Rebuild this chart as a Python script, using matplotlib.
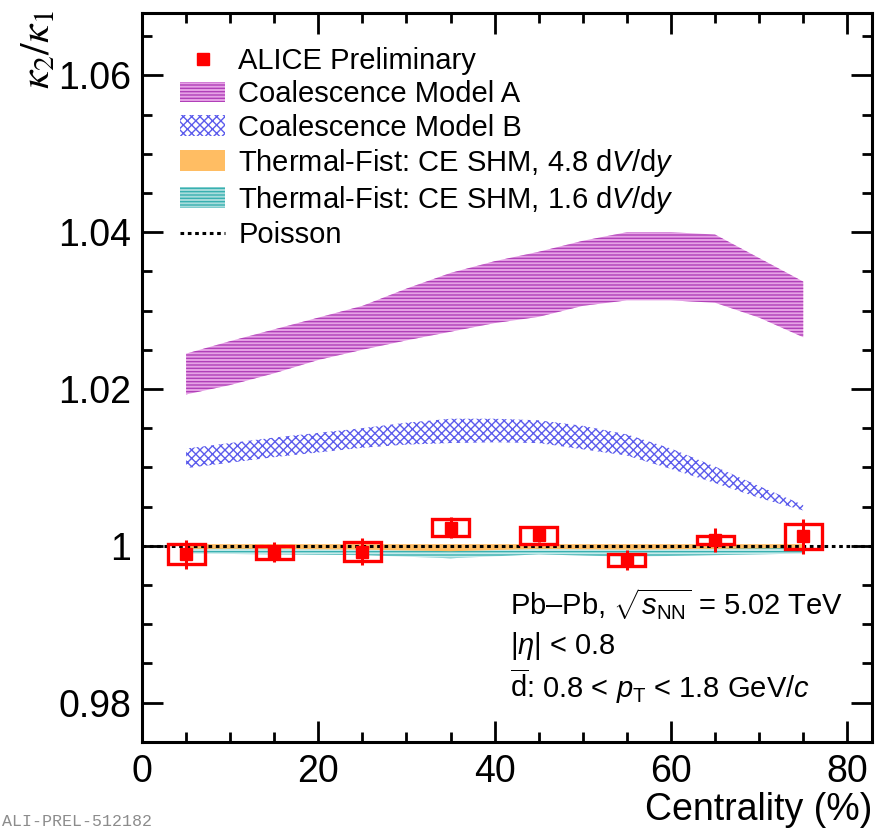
import matplotlib
matplotlib.use("Agg")
import matplotlib.pyplot as plt
import numpy as np
from matplotlib.lines import Line2D
from matplotlib.patches import Patch
from matplotlib.ticker import MultipleLocator, FuncFormatter

plt.rcParams['font.family'] = ['Liberation Sans', 'DejaVu Sans']
plt.rcParams['mathtext.fontset'] = 'custom'
plt.rcParams['mathtext.rm'] = 'Liberation Sans'
plt.rcParams['mathtext.it'] = 'Liberation Sans:italic'
plt.rcParams['mathtext.bf'] = 'Liberation Sans:bold'
plt.rcParams['hatch.linewidth'] = 1.0

# ---------------- data ----------------
centrality = [5, 15, 25, 35, 45, 55, 65, 75]
kappa_ratio = [0.99893, 0.99916, 0.99924, 1.00232, 1.00132, 0.99815, 1.00070, 1.00118]
stat_err = [0.00185, 0.00127, 0.00170, 0.00138, 0.00090, 0.00128, 0.00152, 0.00225]
syst_err = [0.00128, 0.00085, 0.00120, 0.00108, 0.00110, 0.00079, 0.00053, 0.00154]

model_x = [5, 10, 15, 20, 25, 30, 35, 40, 45, 50, 55, 60, 65, 70, 75]
coalA_hi = [1.0245, 1.0261, 1.0276, 1.0291, 1.0306, 1.0328, 1.0348, 1.0363, 1.0375,
            1.0389, 1.0400, 1.0400, 1.0397, 1.0367, 1.0337]
coalA_lo = [1.0193, 1.0205, 1.0220, 1.0237, 1.0250, 1.0262, 1.0273, 1.0284, 1.0292,
            1.0306, 1.0313, 1.0313, 1.0310, 1.0291, 1.0266]
coalB_hi = [1.0124, 1.0131, 1.0138, 1.0144, 1.0150, 1.0157, 1.0162, 1.0162, 1.0160,
            1.0153, 1.0142, 1.0124, 1.0101, 1.0076, 1.0052]
coalB_lo = [1.0099, 1.0106, 1.0113, 1.0119, 1.0125, 1.0129, 1.0131, 1.0132, 1.0131,
            1.0123, 1.0115, 1.0098, 1.0080, 1.0061, 1.0045]

tf_x = [5, 15, 25, 35, 45, 55, 65, 75]
tf48_hi = [1.0002, 1.0002, 1.0002, 1.0002, 1.0002, 1.0002, 1.0002, 1.0002]
tf48_lo = [0.9996, 0.9996, 0.9995, 0.9993, 0.9996, 0.9995, 0.9996, 0.9997]
tf16_hi = [0.99985, 0.99985, 0.99980, 0.99970, 0.99980, 0.99975, 0.99980, 0.99985]
tf16_lo = [0.9990, 0.9989, 0.9988, 0.9984, 0.9989, 0.9986, 0.9988, 0.9990]

poisson_x = [0, 82.8]
poisson_y = [1.0, 1.0]

x_range = (0, 82.8)
y_range = (0.975, 1.068)

labels = ["ALICE Preliminary", "Coalescence Model A", "Coalescence Model B",
          r"Thermal-Fist: CE SHM, 4.8 d$V$/d$y$",
          r"Thermal-Fist: CE SHM, 1.6 d$V$/d$y$", "Poisson"]

# ---------------- style ----------------
c_red = '#ff0000'
c_magenta_face = '#e6a2e6'
c_magenta_hatch = '#b040b8'
c_blue = '#5c5cec'
c_orange = '#ffbd63'
c_teal = '#38b0b0'

W, H = 877, 831
fig = plt.figure(figsize=(W / 100, H / 100), dpi=100)
ax = fig.add_axes([142 / W, 1 - 741.7 / H, (872 - 142) / W, (741.7 - 12.7) / H])

ax.fill_between(model_x, coalA_lo, coalA_hi, facecolor=c_magenta_face,
                edgecolor=c_magenta_hatch, hatch='-----', linewidth=0, zorder=2)
ax.fill_between(model_x, coalB_lo, coalB_hi, facecolor='none',
                edgecolor=c_blue, hatch='xxxx', linewidth=0, zorder=2)
ax.fill_between(tf_x, tf16_lo, tf16_hi, facecolor='#c4eaea',
                edgecolor=c_teal, hatch='-----', linewidth=0, zorder=2)
ax.fill_between(tf_x, tf48_lo, tf48_hi, facecolor=c_orange,
                edgecolor='none', linewidth=0, zorder=2.5)
ax.plot(poisson_x, poisson_y, color='black', lw=2.2, ls=(0, (1.2, 1.2)), zorder=3)

kr = np.array(kappa_ratio)
se = np.array(syst_err)
ax.bar(centrality, 2 * se, bottom=kr - se, width=4.2, fill=False,
       edgecolor=c_red, linewidth=2.4, zorder=4)
ax.errorbar(centrality, kappa_ratio, yerr=stat_err, fmt='s', color=c_red,
            ms=8, mec=c_red, elinewidth=2.2, capsize=0, zorder=5)

ax.set_xlim(*x_range)
ax.set_ylim(*y_range)
ax.xaxis.set_major_locator(MultipleLocator(20))
ax.xaxis.set_minor_locator(MultipleLocator(5))
ax.yaxis.set_major_locator(MultipleLocator(0.02))
ax.yaxis.set_minor_locator(MultipleLocator(0.005))
ax.yaxis.set_major_formatter(FuncFormatter(lambda v, p: f"{v:.2f}".rstrip('0').rstrip('.')))
ax.xaxis.set_major_formatter(FuncFormatter(lambda v, p: f"{v:g}"))
ax.tick_params(which='both', direction='in', top=True, right=True, width=2.0,
               labelsize=27)
ax.tick_params(which='major', length=15)
ax.tick_params(which='minor', length=7.5)
ax.tick_params(axis='y', pad=8)
ax.tick_params(axis='x', pad=9)
for s in ax.spines.values():
    s.set_linewidth(2.2)

fig.text(872 / W, 1 - 810 / H, "Centrality (%)", ha='right', va='center', fontsize=27)
fig.text(38 / W, 1 - 10 / H, r"$\kappa_{2}/\kappa_{1}$", ha='center', va='top',
         rotation=90, fontsize=30, math_fontfamily='stix')

handles = [
    Line2D([], [], marker='s', color=c_red, ls='none', ms=8),
    Patch(facecolor=c_magenta_face, edgecolor=c_magenta_hatch, hatch='-----', linewidth=0),
    Patch(facecolor='white', edgecolor=c_blue, hatch='xxxx', linewidth=0),
    Patch(facecolor=c_orange, edgecolor='none', linewidth=0),
    Patch(facecolor='#a8dcdc', edgecolor=c_teal, hatch='-----', linewidth=0),
    Line2D([], [], color='black', lw=2.2, ls=(0, (1.2, 1.2))),
]
ax.legend(handles, labels, loc='upper left', bbox_to_anchor=(180 / W, 1 - 47 / H),
          bbox_transform=fig.transFigure, frameon=False, fontsize=21,
          borderpad=0, borderaxespad=0, handlelength=1.55, handleheight=0.72,
          handletextpad=0.45, labelspacing=0.18)

txt_kw = dict(fontsize=21, ha='left', va='center')
fig.text(510 / W, 1 - 604 / H, r"Pb–Pb, $\sqrt{s_{\mathrm{NN}}}$ = 5.02 TeV", **txt_kw)
fig.text(510 / W, 1 - 646 / H, r"$|\eta|$ < 0.8", **txt_kw)
fig.text(510 / W, 1 - 686 / H, r"$\overline{\mathrm{d}}$: 0.8 < $p_{\mathrm{T}}$ < 1.8 GeV/$c$", **txt_kw)

fig.text(2 / W, 1 - 822 / H, "ALI-PREL-512182", ha='left', va='center',
         fontsize=12, color='#8c8c8c', family='Liberation Mono')

fig.savefig("out.png", dpi=100)
